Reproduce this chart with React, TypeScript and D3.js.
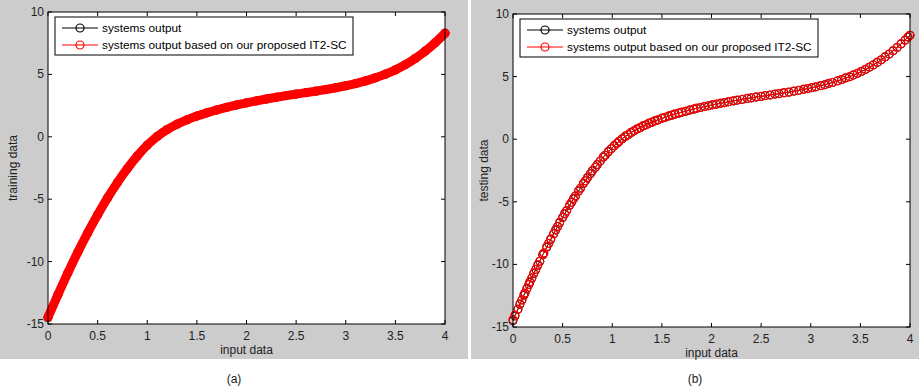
import React from "react";
import * as d3 from "d3";

// ---- data ----
const trainX = [0, 0.1, 0.2, 0.3, 0.4, 0.5, 0.6, 0.7, 0.8, 0.9, 1.0, 1.1, 1.2, 1.3, 1.4, 1.5, 1.6, 1.7, 1.8, 1.9, 2.0,
  2.1, 2.2, 2.3, 2.4, 2.5, 2.6, 2.7, 2.8, 2.9, 3.0, 3.1, 3.2, 3.3, 3.4, 3.5, 3.6, 3.7, 3.8, 3.9, 4.0];
const trainActual = [-14.5, -12.65, -10.9, -9.25, -7.7, -6.25, -4.9, -3.66, -2.54, -1.54, -0.67, 0.03, 0.58, 1.01,
  1.36, 1.66, 1.92, 2.15, 2.36, 2.55, 2.72, 2.88, 3.03, 3.17, 3.3, 3.42, 3.54, 3.66, 3.79, 3.93, 4.09, 4.27, 4.48,
  4.73, 5.02, 5.36, 5.78, 6.28, 6.86, 7.53, 8.3];
const trainPredicted = [-14.45, -12.65, -10.9, -9.25, -7.7, -6.25, -4.9, -3.66, -2.54, -1.54, -0.67, 0.03, 0.58,
  1.01, 1.36, 1.66, 1.92, 2.15, 2.36, 2.55, 2.72, 2.88, 3.03, 3.17, 3.3, 3.42, 3.54, 3.66, 3.79, 3.93, 4.09, 4.27,
  4.48, 4.73, 5.02, 5.36, 5.78, 6.28, 6.86, 7.53, 8.3];

const testX = [0.0, 0.02, 0.05, 0.07, 0.09, 0.11, 0.12, 0.14, 0.16, 0.17, 0.19, 0.21, 0.23, 0.25, 0.27, 0.3, 0.31,
  0.34, 0.36, 0.38, 0.41, 0.43, 0.45, 0.47, 0.5, 0.52, 0.54, 0.57, 0.59, 0.61, 0.63, 0.66, 0.68, 0.71, 0.73, 0.75,
  0.78, 0.8, 0.83, 0.85, 0.88, 0.91, 0.93, 0.96, 0.99, 1.02, 1.05, 1.07, 1.1, 1.13, 1.16, 1.19, 1.22, 1.25, 1.28,
  1.31, 1.34, 1.37, 1.4, 1.43, 1.46, 1.5, 1.53, 1.57, 1.6, 1.63, 1.67, 1.7, 1.74, 1.78, 1.82, 1.85, 1.89, 1.93,
  1.97, 2.01, 2.05, 2.09, 2.13, 2.17, 2.22, 2.26, 2.31, 2.36, 2.4, 2.45, 2.5, 2.54, 2.59, 2.64, 2.68, 2.73, 2.78,
  2.83, 2.88, 2.93, 2.97, 3.01, 3.05, 3.1, 3.14, 3.18, 3.22, 3.27, 3.31, 3.35, 3.39, 3.43, 3.47, 3.51, 3.55, 3.59,
  3.63, 3.67, 3.71, 3.75, 3.79, 3.83, 3.87, 3.91, 3.95, 3.98, 4.0];
const testActual = [-14.5, -14.13, -13.58, -13.2, -12.84, -12.47, -12.3, -11.95, -11.6, -11.42, -11.08, -10.73,
  -10.4, -10.07, -9.75, -9.25, -9.1, -8.63, -8.32, -8.01, -7.55, -7.27, -6.97, -6.68, -6.25, -5.98, -5.71, -5.3,
  -5.04, -4.78, -4.53, -4.16, -3.91, -3.55, -3.32, -3.1, -2.76, -2.54, -2.24, -2.04, -1.74, -1.45, -1.28, -1.02,
  -0.76, -0.53, -0.32, -0.18, 0.03, 0.2, 0.36, 0.52, 0.67, 0.8, 0.92, 1.05, 1.15, 1.26, 1.36, 1.45, 1.54, 1.66,
  1.74, 1.84, 1.92, 1.99, 2.08, 2.15, 2.23, 2.32, 2.4, 2.46, 2.53, 2.6, 2.67, 2.74, 2.8, 2.86, 2.92, 2.98, 3.06,
  3.11, 3.18, 3.25, 3.3, 3.36, 3.42, 3.47, 3.53, 3.59, 3.64, 3.7, 3.76, 3.83, 3.9, 3.98, 4.04, 4.11, 4.18, 4.27,
  4.35, 4.44, 4.53, 4.65, 4.76, 4.88, 4.99, 5.12, 5.26, 5.4, 5.57, 5.74, 5.93, 6.13, 6.34, 6.57, 6.8, 7.06, 7.33,
  7.61, 7.91, 8.15, 8.3];
const testPredicted = [-14.4, -14.05, -13.58, -13.15, -12.84, -12.42, -12.3, -11.9, -11.6, -11.38, -11.08, -10.68,
  -10.4, -10.02, -9.75, -9.2, -9.1, -8.58, -8.32, -7.96, -7.55, -7.22, -6.97, -6.63, -6.25, -5.93, -5.71, -5.25,
  -5.04, -4.73, -4.53, -4.11, -3.91, -3.5, -3.32, -3.05, -2.76, -2.5, -2.24, -2.0, -1.74, -1.4, -1.28, -0.98,
  -0.76, -0.5, -0.32, -0.15, 0.03, 0.24, 0.36, 0.55, 0.67, 0.83, 0.92, 1.08, 1.15, 1.29, 1.36, 1.48, 1.54, 1.69,
  1.74, 1.87, 1.92, 2.02, 2.08, 2.17, 2.23, 2.34, 2.4, 2.48, 2.53, 2.62, 2.67, 2.76, 2.8, 2.88, 2.92, 3.0, 3.06,
  3.13, 3.18, 3.27, 3.3, 3.38, 3.42, 3.49, 3.53, 3.61, 3.64, 3.72, 3.76, 3.85, 3.9, 4.0, 4.04, 4.13, 4.18, 4.29,
  4.35, 4.46, 4.53, 4.67, 4.76, 4.9, 4.99, 5.14, 5.26, 5.42, 5.57, 5.76, 5.93, 6.15, 6.34, 6.59, 6.8, 7.08, 7.33,
  7.63, 7.91, 8.17, 8.3];

const xTicks = [0, 0.5, 1, 1.5, 2, 2.5, 3, 3.5, 4];
const xTickLabels = ["0", "0.5", "1", "1.5", "2", "2.5", "3", "3.5", "4"];
const yTicks = [-15, -10, -5, 0, 5, 10];
const yTickLabels = ["-15", "-10", "-5", "0", "5", "10"];
const legendLabels = ["systems output", "systems output based on our proposed IT2-SC"];
const xLabel = "input data";

const FONT = "'Liberation Sans', Arial, sans-serif";
const GRAY = "#cccccc";

type PanelProps = {
  bg: [number, number, number, number];
  box: [number, number, number, number]; // left, top, right, bottom
  yLabel: string;
  yLabelX: number;
  caption: string;
  xs: number[];
  actual: number[];
  predicted: number[];
  dense: boolean;
};

function Panel({ bg, box, yLabel, yLabelX, caption, xs, actual, predicted, dense }: PanelProps) {
  const [l, t, r, b] = box;
  const x = d3.scaleLinear().domain([0, 4]).range([l, r]);
  const y = d3.scaleLinear().domain([-15, 10]).range([b, t]);
  const line = d3.line<number>().x((_, i) => x(xs[i])).y((v) => y(v)).curve(d3.curveMonotoneX);
  const tl = 4;
  const legL = l + 7;
  const legT = t + 5;
  const legW = 298;
  const legH = 38;
  const row1 = legT + 11;
  const row2 = legT + 28;
  const mr = 4;
  const cid = "clip" + caption.replace(/[()]/g, "");
  return (
    <g>
      <rect x={bg[0]} y={bg[1]} width={bg[2]} height={bg[3]} fill={GRAY} />
      <rect x={l} y={t} width={r - l} height={b - t} fill="#ffffff" />
      <clipPath id={cid}>
        <rect x={l - 6} y={t - 6} width={r - l + 12} height={b - t + 12} />
      </clipPath>
      <g clipPath={`url(#${cid})`}>
        <path d={line(actual) || ""} fill="none" stroke="#000" strokeWidth={1} />
        {actual.map((v, i) => (
          <circle key={"a" + i} cx={x(xs[i])} cy={y(v)} r={mr} fill="none" stroke="#000" strokeWidth={1} />
        ))}
        {dense && (
          <path d={line(predicted) || ""} fill="none" stroke="#ff0000" strokeWidth={9}
            strokeLinecap="round" strokeLinejoin="round" />
        )}
        <path d={line(predicted) || ""} fill="none" stroke="#ff0000" strokeWidth={1} />
        {predicted.map((v, i) => (
          <circle key={"p" + i} cx={x(xs[i])} cy={y(v)} r={mr} fill="none" stroke="#ff0000" strokeWidth={1.2} />
        ))}
      </g>
      <rect x={l} y={t} width={r - l} height={b - t} fill="none" stroke="#000" strokeWidth={1} />
      {xTicks.map((v, i) => (
        <g key={"xt" + i}>
          <line x1={x(v)} x2={x(v)} y1={b} y2={b - tl} stroke="#000" />
          <line x1={x(v)} x2={x(v)} y1={t} y2={t + tl} stroke="#000" />
          <text x={x(v)} y={b + 16} fontSize={12} fontFamily={FONT} fill="#222" textAnchor="middle">
            {xTickLabels[i]}
          </text>
        </g>
      ))}
      {yTicks.map((v, i) => (
        <g key={"yt" + i}>
          <line x1={l} x2={l + tl} y1={y(v)} y2={y(v)} stroke="#000" />
          <line x1={r} x2={r - tl} y1={y(v)} y2={y(v)} stroke="#000" />
          <text x={l - 4} y={y(v) + 4} fontSize={12} fontFamily={FONT} fill="#222" textAnchor="end">
            {yTickLabels[i]}
          </text>
        </g>
      ))}
      <text x={(l + r) / 2} y={b + 30} fontSize={12} fontFamily={FONT} fill="#222" textAnchor="middle">
        {xLabel}
      </text>
      <text transform={`translate(${yLabelX},${(t + b) / 2}) rotate(-90)`} fontSize={12} fontFamily={FONT}
        fill="#222" textAnchor="middle" dominantBaseline="middle">
        {yLabel}
      </text>
      <rect x={legL} y={legT} width={legW} height={legH} fill="#fff" stroke="#000" strokeWidth={1} />
      <line x1={legL + 7} x2={legL + 43} y1={row1} y2={row1} stroke="#000" strokeWidth={1.2} />
      <circle cx={legL + 25} cy={row1} r={mr} fill="none" stroke="#000" strokeWidth={1.2} />
      <line x1={legL + 7} x2={legL + 43} y1={row2} y2={row2} stroke="#ff0000" strokeWidth={1.2} />
      <circle cx={legL + 25} cy={row2} r={mr} fill="none" stroke="#ff0000" strokeWidth={1.2} />
      <text x={legL + 47} y={row1 + 4} fontSize={11.8} fontFamily={FONT} fill="#000">{legendLabels[0]}</text>
      <text x={legL + 47} y={row2 + 4} fontSize={11.8} fontFamily={FONT} fill="#000">{legendLabels[1]}</text>
      <text x={(bg[0] + bg[0] + bg[2]) / 2} y={383} fontSize={12} fontFamily={FONT} fill="#222" textAnchor="middle">
        {caption}
      </text>
    </g>
  );
}

export default function App() {
  return (
    <svg width={919} height={392} style={{ position: "absolute", left: 0, top: 0, display: "block" }}>
      <rect x={0} y={0} width={919} height={392} fill="#fff" />
      <Panel bg={[0, 0, 468, 359]} box={[48, 12, 445, 324]} yLabel="training data" yLabelX={14} caption="(a)"
        xs={trainX} actual={trainActual} predicted={trainPredicted} dense={true} />
      <Panel bg={[471, 0, 448, 359]} box={[513, 14, 910, 327]} yLabel="testing data" yLabelX={485} caption="(b)"
        xs={testX} actual={testActual} predicted={testPredicted} dense={false} />
    </svg>
  );
}
